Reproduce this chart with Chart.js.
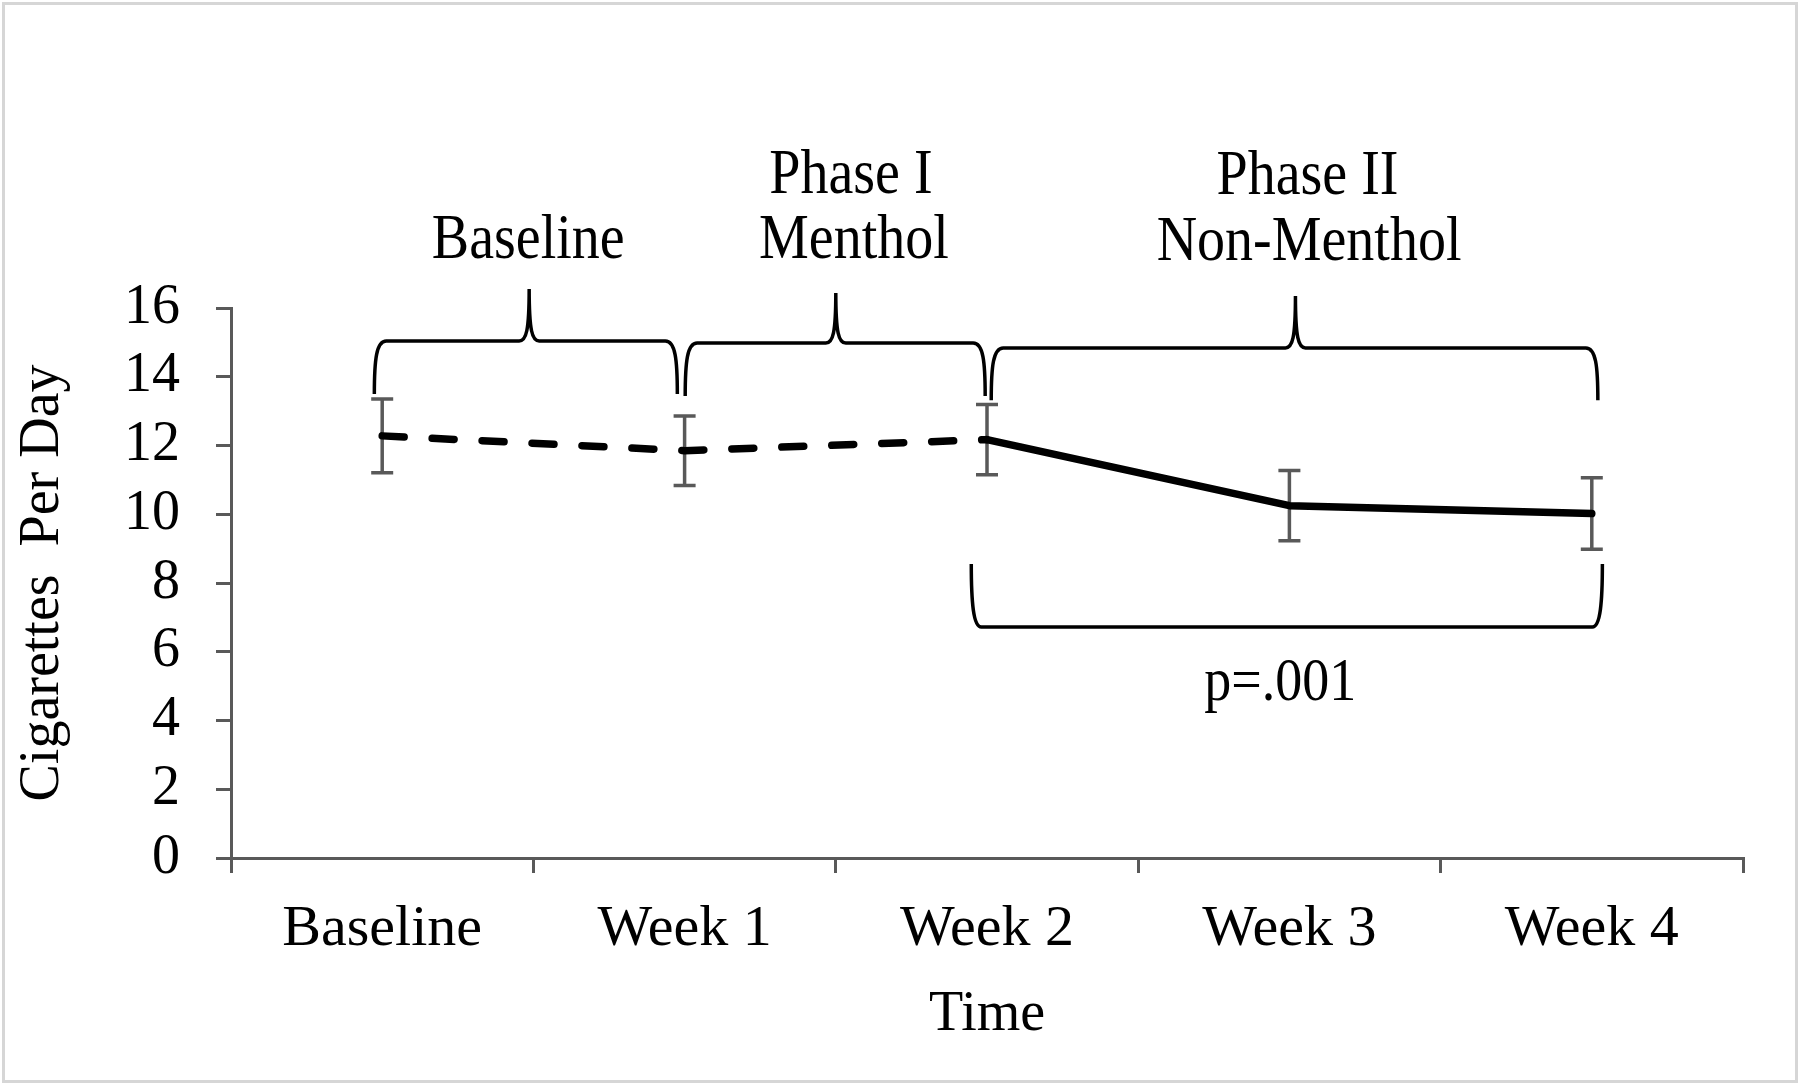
<!DOCTYPE html>
<html><head><meta charset="utf-8">
<script src="https://cdn.jsdelivr.net/npm/chart.js@4.4.1/dist/chart.umd.min.js"></script>
<style>html,body{margin:0;padding:0;background:#fff;} canvas{display:block;}</style>
</head><body>
<canvas id="c" width="1800" height="1085"></canvas>
<script>
// ---- data ----
const categories = ['Baseline', 'Week 1', 'Week 2', 'Week 3', 'Week 4'];
const meanCigs = [12.28, 11.85, 12.17, 10.25, 10.02];
const errCigs = [1.07, 1.01, 1.02, 1.02, 1.04];
const yTickMin = 0, yTickMax = 16, yTickStep = 2;
const phaseTexts = [['Baseline'], ['Phase I', 'Menthol'], ['Phase II', 'Non-Menthol']];
const pText = 'p=.001';
const yTitle = 'Cigarettes  Per Day';
const xTitle = 'Time';
const dashedSegments = 2; // first two segments (Baseline→Week 2) dashed

const SERIF = '"Liberation Serif", "Times New Roman", serif';
const AXIS = '#595959';

function sText(ctx, text, x, y, size, sy) {
  ctx.save();
  ctx.translate(x, y);
  ctx.scale(1, sy);
  ctx.font = size + 'px ' + SERIF;
  ctx.fillStyle = '#000';
  ctx.textAlign = 'center';
  ctx.textBaseline = 'alphabetic';
  ctx.fillText(text, 0, 0);
  ctx.restore();
}

function brace(ctx, x0, x1, xm, yb, yh, yt) {
  const h = yb - yh;
  ctx.beginPath();
  ctx.moveTo(x0, yb);
  ctx.bezierCurveTo(x0, yh + h * 0.35, x0 + 2, yh, x0 + 12, yh);
  ctx.lineTo(xm - 10, yh);
  ctx.bezierCurveTo(xm - 3, yh, xm, yh - 10, xm, yt);
  ctx.bezierCurveTo(xm, yh - 10, xm + 3, yh, xm + 10, yh);
  ctx.lineTo(x1 - 12, yh);
  ctx.bezierCurveTo(x1 - 2, yh, x1, yh + h * 0.35, x1, yb);
  ctx.stroke();
}

function bracket(ctx, x0, x1, ytop, ybot) {
  ctx.beginPath();
  ctx.moveTo(x0, ytop);
  ctx.bezierCurveTo(x0, ybot - 25, x0 + 2, ybot, x0 + 10, ybot);
  ctx.lineTo(x1 - 10, ybot);
  ctx.bezierCurveTo(x1 - 2, ybot, x1, ybot - 25, x1, ytop);
  ctx.stroke();
}

const decor = {
  id: 'decor',
  beforeDraw(chart) {
    const ctx = chart.ctx;
    ctx.save();
    ctx.fillStyle = '#fff';
    ctx.fillRect(0, 0, chart.width, chart.height);
    ctx.strokeStyle = '#d6d6d6';
    ctx.lineWidth = 3;
    ctx.strokeRect(3.5, 3.5, chart.width - 7, chart.height - 7);
    ctx.restore();
  },
  beforeDatasetsDraw(chart) {
    const ctx = chart.ctx, xs = chart.scales.x, ys = chart.scales.y;
    ctx.save();
    ctx.strokeStyle = AXIS;
    ctx.lineWidth = 3.5;
    meanCigs.forEach((m, i) => {
      const x = xs.getPixelForValue(i);
      const yt = ys.getPixelForValue(m + errCigs[i]);
      const yb = ys.getPixelForValue(m - errCigs[i]);
      ctx.beginPath();
      ctx.moveTo(x, yt); ctx.lineTo(x, yb);
      ctx.moveTo(x - 11, yt); ctx.lineTo(x + 11, yt);
      ctx.moveTo(x - 11, yb); ctx.lineTo(x + 11, yb);
      ctx.stroke();
    });
    ctx.restore();
  },
  afterDraw(chart) {
    const ctx = chart.ctx, xs = chart.scales.x, ys = chart.scales.y;
    const X = v => xs.getPixelForValue(v), Y = v => ys.getPixelForValue(v);
    ctx.save();
    ctx.strokeStyle = '#000';
    ctx.lineWidth = 3.5;
    ctx.lineCap = 'butt';
    brace(ctx, X(-0.026), X(0.976), X(0.486), Y(13.5), Y(15.04), Y(16.55));
    brace(ctx, X(1.002), X(1.994), X(1.5), Y(13.44), Y(14.98), Y(16.44));
    brace(ctx, X(2.014), X(4.02), X(3.02), Y(13.32), Y(14.84), Y(16.35));
    bracket(ctx, X(1.948), X(4.035), Y(8.55), Y(6.72));
    // phase labels
    sText(ctx, phaseTexts[0][0], X(0.483), 258, 56, 1.12);
    sText(ctx, phaseTexts[1][0], X(1.55), 193, 56, 1.12);
    sText(ctx, phaseTexts[1][1], X(1.56), 258, 56, 1.12);
    sText(ctx, phaseTexts[2][0], X(3.06), 194, 56, 1.12);
    sText(ctx, phaseTexts[2][1], X(3.065), 260, 56, 1.12);
    sText(ctx, pText, X(2.97), 700, 54, 1.12);
    ctx.restore();
  }
};

new Chart(document.getElementById('c'), {
  type: 'line',
  data: {
    labels: categories,
    datasets: [{
      data: meanCigs,
      borderColor: '#000',
      borderWidth: 7.5,
      borderCapStyle: 'round',
      borderJoinStyle: 'round',
      pointRadius: 0,
      tension: 0,
      fill: false,
      segment: {
        borderDash: c => (c.p1DataIndex <= dashedSegments ? [22, 28] : [])
      }
    }]
  },
  options: {
    responsive: false,
    animation: false,
    devicePixelRatio: 1,
    layout: { padding: { left: 10, right: 57, top: 308, bottom: 0 } },
    plugins: { legend: { display: false }, tooltip: { enabled: false } },
    scales: {
      x: {
        type: 'category',
        offset: true,
        afterFit: s => { s.height = 227; },
        grid: { offset: true, drawOnChartArea: false, drawTicks: true, tickLength: 15, color: AXIS, lineWidth: 3 },
        border: { display: true, color: AXIS, width: 3 },
        ticks: { color: '#000', padding: 22, maxRotation: 0, autoSkip: false, font: { family: SERIF, size: 58, lineHeight: 1.2 } },
        title: { display: true, text: xTitle, color: '#000', padding: { top: 0, bottom: 36 }, font: { family: SERIF, size: 56, lineHeight: 1.2 } }
      },
      y: {
        min: yTickMin, max: yTickMax,
        afterFit: s => { s.width = 221; },
        grid: { drawOnChartArea: false, drawTicks: true, tickLength: 15, color: AXIS, lineWidth: 3 },
        border: { display: true, color: AXIS, width: 3 },
        ticks: { stepSize: yTickStep, autoSkip: false, color: '#000', padding: 36, font: { family: SERIF, size: 56, lineHeight: 1.2 } },
        title: { display: true, text: yTitle, color: '#000', padding: { top: 0, bottom: 0 }, font: { family: SERIF, size: 56, lineHeight: 1.2 } }
      }
    }
  },
  plugins: [decor]
});
</script>
</body></html>
